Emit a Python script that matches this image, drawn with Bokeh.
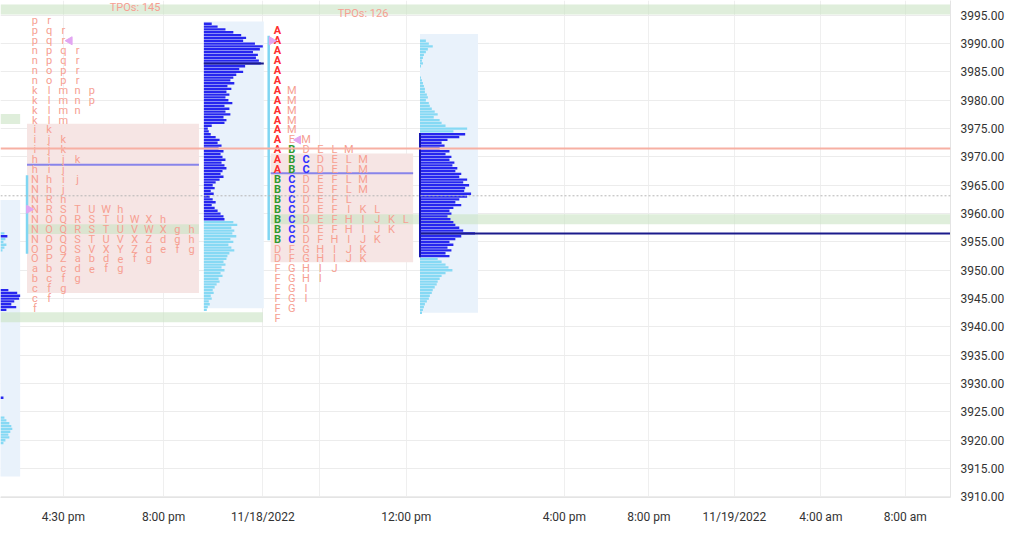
import math
from bokeh.plotting import figure
from bokeh.models import ColumnDataSource, FixedTicker, Span, Label, Range1d, PrintfTickFormatter
from bokeh.core.properties import value
from bokeh.embed import file_html
from bokeh.resources import INLINE

# ---------------- axis data ----------------
x_tick_pos = [64, 166, 267, 325, 413, 574, 660, 747, 835, 921]
x_tick_labels = ["4:30 pm", "8:00 pm", "11/18/2022", "", "12:00 pm",
                 "4:00 pm", "8:00 pm", "11/19/2022", "4:00 am", "8:00 am"]
y_ticks = [3910, 3915, 3920, 3925, 3930, 3935, 3940, 3945, 3950, 3955,
           3960, 3965, 3970, 3975, 3980, 3985, 3990, 3995]

# ---------------- TPO profiles ----------------
tpo_step = 1.75
tpo1_rows = ["pr", "pqr", "pqr", "npqr", "npqr", "nopr", "nopr", "klmnp", "klmnp",
             "klmn", "klm", "ik", "ijk", "ijk", "hijk", "hij", "Nhij", "Nhj", "NRh",
             "NRSTUWh", "NOQRSTUWXh", "NOQRSTUVWXgh", "NOQSTUVXZdgh", "OPQSVXYZdefg",
             "OPZabdefg", "abcdefg", "bcfg", "cfg", "cf", "f"]
tpo1_top = 3994.0
tpo1_poc_row = 21
tpo1_va = (3946.0, 3975.85)
tpo1_mid = 3968.6
tpo1_ib = (3952.9, 3966.75)
tpo1_count = 145

tpo2_rows = ["A", "A", "A", "A", "A", "A", "AM", "AM", "AM", "AM", "AM", "AEM",
             "ABDELM", "ABCDELM", "ABCDELM", "BCDEFLM", "BCDEFLM", "BCDEFL",
             "BCDEFIKL", "BCDEFHIJKL", "BCDEFHIJK", "BCDFHIJK", "DFGHIJK", "DFGHIJK",
             "FGHIJ", "FGHI", "FGI", "FGI", "FG", "F"]
tpo2_top = 3992.25
tpo2_poc_row = 19
tpo2_va = (3951.4, 3970.6)
tpo2_mid = 3967.1
tpo2_ib = (3955.3, 3991.4)
tpo2_count = 126

# ---------------- volume profiles ----------------
vp_step = 0.5
vp1_top = 3993.5
vp1_vol = [8, 14, 22, 30, 38, 43, 40, 52, 60, 57,
           50, 55, 53, 56, 58, 42, 36, 40, 33, 30,
           27, 31, 24, 28, 23, 26, 22, 25, 29, 21,
           26, 22, 27, 20, 23, 21, 8, 4, 5, 7,
           12, 16, 14, 18, 15, 20, 17, 19, 22, 18,
           21, 23, 19, 17, 20, 16, 12, 9, 11, 7,
           10, 6, 9, 12, 8, 11, 14, 17, 20, 21,
           30, 34, 28, 31, 29, 33, 27, 30, 25, 28,
           31, 26, 24, 23, 20, 22, 18, 21, 17, 19,
           15, 16, 13, 11, 9, 10, 7, 8, 5, 6,
           4, 3]
vp1_va = (3959.0, 3993.5)
vp1_poc = 3986.5
vp1_range = (3943.3, 3993.9)

vp2_top = 3990.5
vp2_vol = [6, 9, 13, 8, 6, 4, 3, 2, 3, 1,
           0, 0, 0, 1, 2, 3, 4, 5, 5, 7,
           8, 6, 9, 10, 12, 15, 18, 14, 20, 22,
           26, 48, 34,
           46, 40, 28, 22, 25, 20, 30, 26, 32, 30,
           35, 33, 38, 36, 42, 40, 48, 44, 50, 46,
           45, 52, 48, 40, 36, 42, 34, 30, 32, 28,
           31, 34, 36, 40, 44, 56, 42, 36, 30, 34,
           28, 32, 26, 30,
           18, 22, 26, 29, 33, 26, 22, 20, 18, 17,
           15, 13, 12, 10, 9, 7, 5, 4, 3, 2]
vp2_va = (3952.5, 3974.0)
vp2_poc = 3956.5
vp2_range = (3942.5, 3991.7)

vp0_dark_price = [3956.0, 3946.5, 3946.0, 3945.5, 3945.0, 3944.5, 3944.0, 3943.5, 3943.0, 3927.5]
vp0_dark_vol = [32, 33, 42, 45, 44, 39, 36, 41, 31, 28]
vp0_light_price = [3956.5, 3955.5, 3955.0, 3954.5, 3954.0, 3953.5, 3924.0, 3923.5, 3923.0,
                   3922.5, 3922.0, 3921.5, 3921.0, 3920.5, 3920.0, 3919.5]
vp0_light_vol = [29, 30, 28, 31, 29, 27, 29, 31, 34, 36, 37, 35, 33, 34, 30, 28]
vp0_range = (3913.6, 3962.4)

prior_poc = [3996.0, 3976.7, 3941.7]

last_price = 3971.50
vwap_price = 3963.14

# ---------------- styling / layout ----------------
SALMON = "#f6a092"
BOLD_COLORS = {"A": "#ff2d2d", "B": "#2f9a2f", "C": "#3030ff"}
DARK = "#2626ef"
LIGHT = "#86d9f4"
VP_BG = "#e9f2fb"
VA_BG = "#f6e5e4"
BAND = "#c9e2c3"
FONT = "Roboto"
COL_W = 14.5
TPO1_X, TPO2_X = 35, 282
VP0_X, VP1_X, VP2_X = -25, 207, 427

p = figure(width=1007, height=526, x_range=Range1d(0, 967), y_range=Range1d(3909.9, 3997.6),
           y_axis_location="right", output_backend="svg", toolbar_location=None,
           min_border=0)
p.outline_line_color = None
p.background_fill_color = "white"

p.xaxis.ticker = FixedTicker(ticks=x_tick_pos)
p.xaxis.major_label_overrides = {t: l for t, l in zip(x_tick_pos, x_tick_labels)}
p.yaxis.ticker = FixedTicker(ticks=y_ticks)
p.yaxis.formatter = PrintfTickFormatter(format="%.2f")
for ax in (p.xaxis, p.yaxis):
    ax.axis_line_color = "#e4e4e4"
    ax.major_tick_line_color = None
    ax.minor_tick_line_color = None
    ax.major_label_text_font = FONT
    ax.major_label_text_font_size = "12px"
    ax.major_label_text_color = "#333333"
p.xaxis.major_label_standoff = 6
p.yaxis.major_label_standoff = 4
p.xgrid.ticker = FixedTicker(ticks=x_tick_pos)
p.xgrid.grid_line_color = "#efefef"
p.ygrid.grid_line_color = "#ececec"

# volume profile backgrounds
p.quad(left=[VP0_X, VP1_X, VP2_X], right=[VP0_X + 45, VP1_X + 61, VP2_X + 59],
       bottom=[vp0_range[0], vp1_range[0], vp2_range[0]],
       top=[vp0_range[1], vp1_range[1], vp2_range[1]],
       fill_color=VP_BG, line_color=None)

# value area boxes
p.quad(left=[27, 275], right=[202, 420], bottom=[tpo1_va[0], tpo2_va[0]],
       top=[tpo1_va[1], tpo2_va[1]], fill_color=VA_BG, line_color=None)

# POC bands
half = tpo_step / 2
poc1 = tpo1_top - tpo1_poc_row * tpo_step
poc2 = tpo2_top - tpo2_poc_row * tpo_step
band_c = [poc1, poc2] + prior_poc
p.quad(left=[27, 275, 0, 0, 0], right=[202, 967, 967, 20, 267],
       bottom=[c - half for c in band_c], top=[c + half for c in band_c],
       fill_color=BAND, fill_alpha=0.6, line_color=None)

# mid lines and IB lines
p.segment(x0=[27, 275], x1=[202, 420], y0=[tpo1_mid, tpo2_mid], y1=[tpo1_mid, tpo2_mid],
          line_color="#8884ea", line_width=2)
p.segment(x0=[27, 273], x1=[27, 273], y0=[tpo1_ib[0], tpo2_ib[0]], y1=[tpo1_ib[1], tpo2_ib[1]],
          line_color="#80d6f2", line_width=2.5)

# volume bars
def vp_bars(top, vols, x0, va):
    ys = [top - i * vp_step for i in range(len(vols))]
    cols = [DARK if va[0] <= y <= va[1] else LIGHT for y in ys]
    p.hbar(y=ys, left=x0, right=[x0 + v for v in vols], height=0.42,
           fill_color=cols, line_color=None)

vp_bars(vp1_top, vp1_vol, VP1_X, vp1_va)
vp_bars(vp2_top, vp2_vol, VP2_X, vp2_va)
p.hbar(y=vp0_light_price, left=VP0_X, right=[VP0_X + v for v in vp0_light_vol], height=0.42,
       fill_color=LIGHT, line_color=None)
p.hbar(y=vp0_dark_price, left=VP0_X, right=[VP0_X + v for v in vp0_dark_vol], height=0.42,
       fill_color=DARK, line_color=None)

# POC lines of volume profiles
p.segment(x0=[VP1_X, VP2_X], x1=[VP1_X + 61, 967], y0=[vp1_poc, vp2_poc], y1=[vp1_poc, vp2_poc],
          line_color="#1b1b8c", line_width=2)
p.segment(x0=[VP2_X], x1=[VP2_X], y0=[vp2_va[0] - 0.2], y1=[vp2_va[1] + 0.2],
          line_color="#1515b0", line_width=2)

# TPO letters
def tpo_letters(rows, top, x0, colors):
    norm = dict(x=[], y=[], t=[])
    bold = dict(x=[], y=[], t=[], c=[])
    for k, row in enumerate(rows):
        for c, ch in enumerate(row):
            d = bold if ch in colors else norm
            d["x"].append(x0 + c * COL_W)
            d["y"].append(top - k * tpo_step)
            d["t"].append(ch)
            if ch in colors:
                d["c"].append(colors[ch])
    p.text(x="x", y="y", text="t", source=ColumnDataSource(norm), text_color=SALMON,
           text_font=value(FONT), text_font_size="11px", text_align="center",
           text_baseline="middle")
    if bold["x"]:
        p.text(x="x", y="y", text="t", source=ColumnDataSource(bold), text_color="c",
               text_font=value(FONT), text_font_size="11px", text_font_style="bold",
               text_align="center", text_baseline="middle")

tpo_letters(tpo1_rows, tpo1_top, TPO1_X, {})
tpo_letters(tpo2_rows, tpo2_top, TPO2_X, BOLD_COLORS)

# open / close markers
p.scatter(x=[TPO1_X + 2.45 * COL_W, TPO2_X + 1.45 * COL_W],
          y=[tpo1_top - 2 * tpo_step, tpo2_top - 11 * tpo_step],
          marker="triangle", size=8, angle=math.pi / 2, color="#e2a6f2")
p.scatter(x=[29, 276], y=[tpo1_top - 19 * tpo_step, tpo2_top - 1 * tpo_step],
          marker="triangle", size=8, angle=-math.pi / 2, color="#e2a6f2")

# TPO counts
p.text(x=[137], y=[3997.55], text=[f"TPOs: {tpo1_count}"],
       text_color=SALMON, text_font=value(FONT), text_font_size="11px",
       text_align="center", text_baseline="top")
p.text(x=[369], y=[3995.37], text=[f"TPOs: {tpo2_count}"],
       text_color=SALMON, text_font=value(FONT), text_font_size="11px",
       text_align="center", text_baseline="middle")

# price lines
p.add_layout(Span(location=last_price, dimension="width", line_color="#f7b0a3", line_width=2))
p.add_layout(Span(location=vwap_price, dimension="width", line_color="#b5b5b5",
                  line_width=1, line_dash="2 2"))
for price, bg in ((last_price, "#f4876f"), (vwap_price, "#8d9297")):
    p.add_layout(Label(x=967, y=price, text=f"{price:.2f}", x_offset=2,
                       text_baseline="middle", text_align="left",
                       text_color="white", text_font=FONT, text_font_size="12px",
                       background_fill_color=bg, padding=2, border_radius=3))

open("out.html", "w").write(file_html(p, INLINE))
